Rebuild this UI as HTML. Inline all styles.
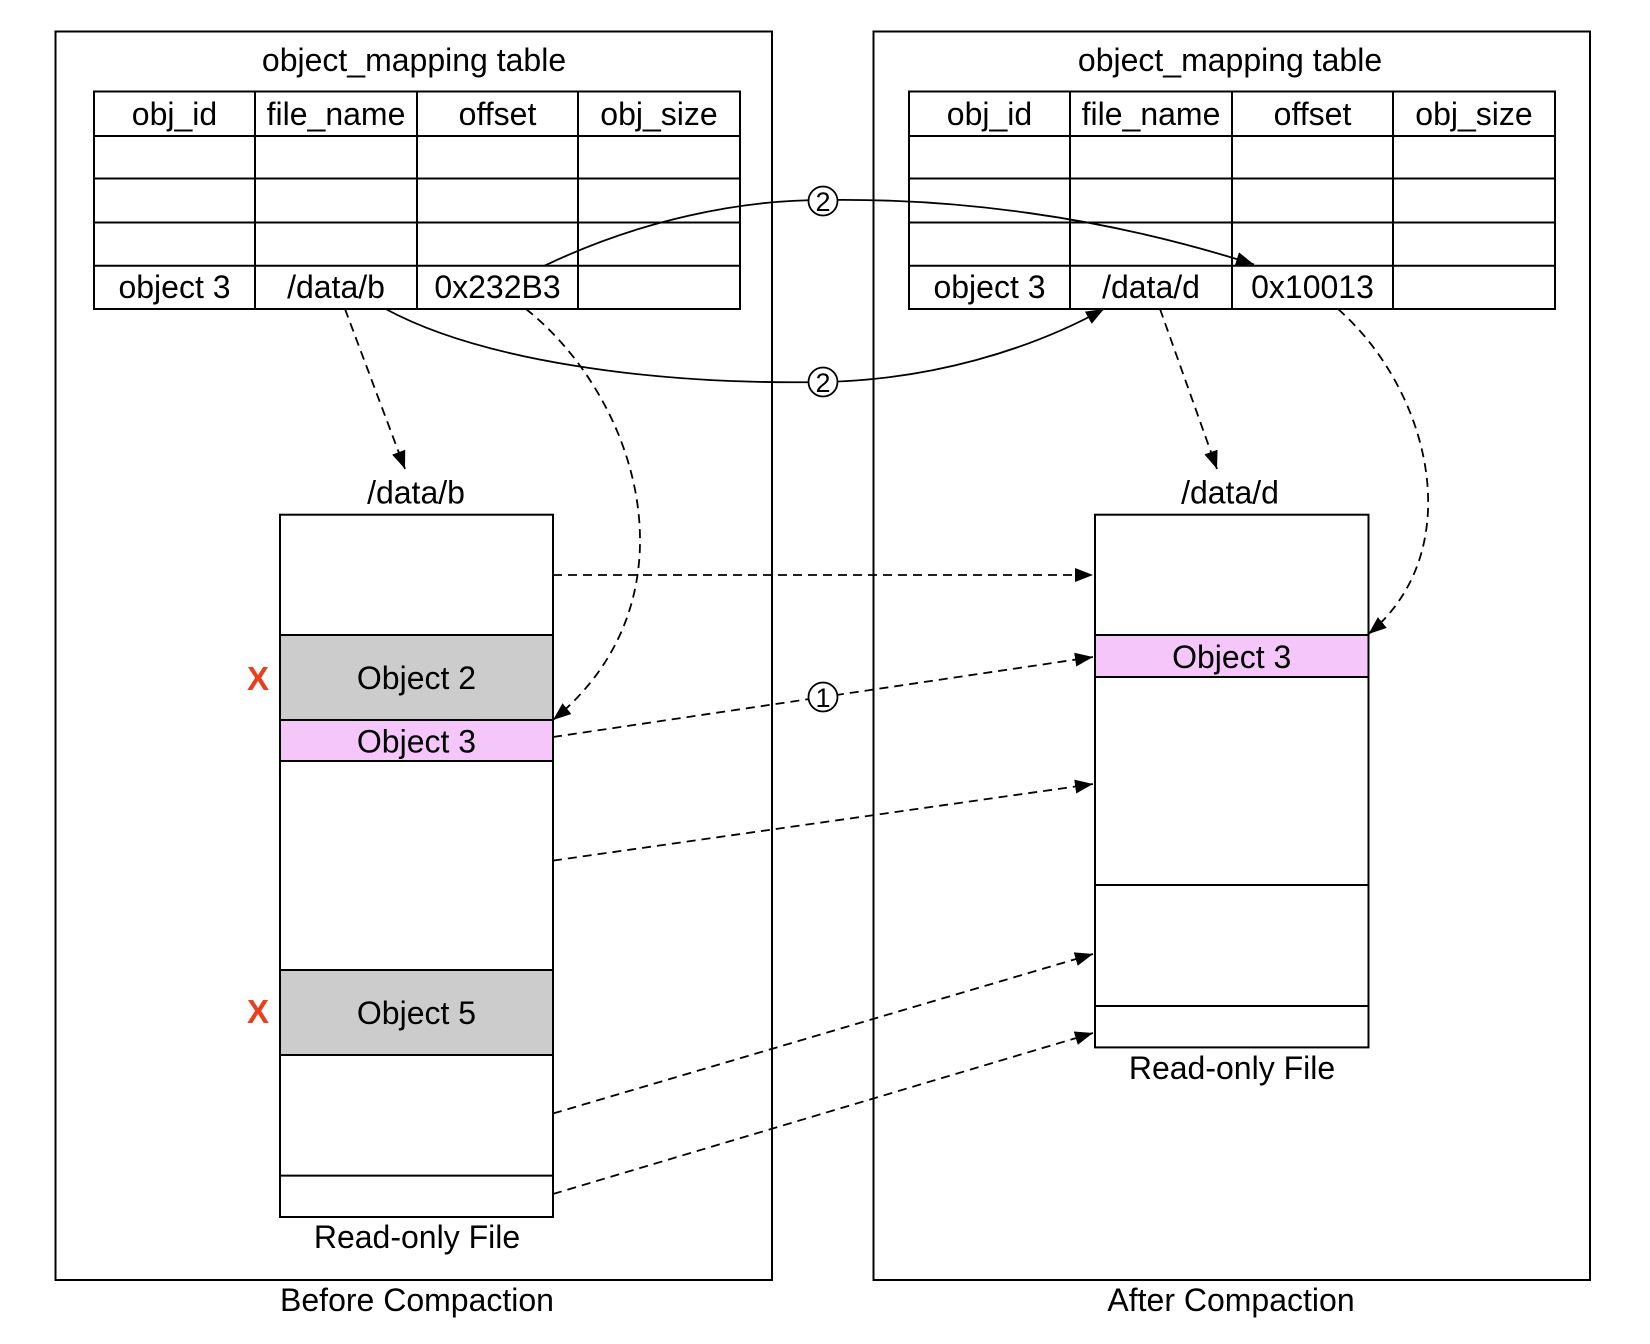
<!DOCTYPE html>
<html><head><meta charset="utf-8"><style>
html,body{margin:0;padding:0;background:#fff;}
svg{display:block;}
text{font-family:"Liberation Sans",Arial,sans-serif;font-size:32px;fill:#000;}
</style></head><body>
<svg width="1650" height="1344" viewBox="0 0 1650 1344" xmlns="http://www.w3.org/2000/svg">
<defs>
<marker id="ah" markerUnits="userSpaceOnUse" markerWidth="20" markerHeight="16" refX="18" refY="7" orient="auto">
<path d="M0,0 L18,7 L0,14 Z" fill="#000"/>
</marker>
</defs>
<g fill="none" stroke="#000" stroke-width="2">
<rect x="55.5" y="31.5" width="716.5" height="1248.5"/>
<rect x="873.5" y="31.5" width="716.5" height="1248.5"/>
</g>
<text x="414" y="71" text-anchor="middle">object_mapping table</text>
<text x="1230" y="71" text-anchor="middle">object_mapping table</text>
<g fill="none" stroke="#000" stroke-width="2">
<rect x="94" y="91.5" width="646" height="217.5"/>
<line x1="255" y1="91.5" x2="255" y2="309"/><line x1="417" y1="91.5" x2="417" y2="309"/><line x1="578" y1="91.5" x2="578" y2="309"/>
<line x1="94" y1="136" x2="740" y2="136"/><line x1="94" y1="178.5" x2="740" y2="178.5"/><line x1="94" y1="222.5" x2="740" y2="222.5"/><line x1="94" y1="265.7" x2="740" y2="265.7"/>
<rect x="909" y="91.5" width="646" height="217.5"/>
<line x1="1070" y1="91.5" x2="1070" y2="309"/><line x1="1232" y1="91.5" x2="1232" y2="309"/><line x1="1393" y1="91.5" x2="1393" y2="309"/>
<line x1="909" y1="136" x2="1555" y2="136"/><line x1="909" y1="178.5" x2="1555" y2="178.5"/><line x1="909" y1="222.5" x2="1555" y2="222.5"/><line x1="909" y1="265.7" x2="1555" y2="265.7"/>
</g>
<g text-anchor="middle">
<text x="174.5" y="125">obj_id</text><text x="336" y="125">file_name</text><text x="497.5" y="125">offset</text><text x="659" y="125">obj_size</text>
<text x="174.5" y="298">object 3</text><text x="336" y="298">/data/b</text><text x="497.5" y="298">0x232B3</text>
<text x="989.5" y="125">obj_id</text><text x="1151" y="125">file_name</text><text x="1312.5" y="125">offset</text><text x="1474" y="125">obj_size</text>
<text x="989.5" y="298">object 3</text><text x="1151" y="298">/data/d</text><text x="1312.5" y="298">0x10013</text>
</g>
<rect x="280" y="635" width="273" height="85" fill="#cccccc"/>
<rect x="280" y="720" width="273" height="41" fill="#f5c6fa"/>
<rect x="280" y="970" width="273" height="85" fill="#cccccc"/>
<g fill="none" stroke="#000" stroke-width="2">
<rect x="280" y="514.7" width="273" height="702.3"/>
<line x1="280" y1="635" x2="553" y2="635"/><line x1="280" y1="720" x2="553" y2="720"/><line x1="280" y1="761" x2="553" y2="761"/>
<line x1="280" y1="970" x2="553" y2="970"/><line x1="280" y1="1055" x2="553" y2="1055"/><line x1="280" y1="1175.6" x2="553" y2="1175.6"/>
</g>
<rect x="1095" y="635" width="273.5" height="42" fill="#f5c6fa"/>
<g fill="none" stroke="#000" stroke-width="2">
<rect x="1095" y="514.7" width="273.5" height="532.7"/>
<line x1="1095" y1="635" x2="1368.5" y2="635"/><line x1="1095" y1="677" x2="1368.5" y2="677"/>
<line x1="1095" y1="885" x2="1368.5" y2="885"/><line x1="1095" y1="1006" x2="1368.5" y2="1006"/>
</g>
<g text-anchor="middle">
<text x="416" y="503.6">/data/b</text>
<text x="1230" y="503.6">/data/d</text>
<text x="416.5" y="689">Object 2</text>
<text x="416.5" y="752.6">Object 3</text>
<text x="416.5" y="1024">Object 5</text>
<text x="1231.7" y="668">Object 3</text>
<text x="417" y="1248">Read-only File</text>
<text x="1232" y="1079">Read-only File</text>
<text x="417" y="1311">Before Compaction</text>
<text x="1231" y="1311">After Compaction</text>
<text x="258" y="690" style="fill:#e8401c;font-weight:bold;font-size:33px">X</text>
<text x="258" y="1023" style="fill:#e8401c;font-weight:bold;font-size:33px">X</text>
</g>
<g fill="none" stroke="#000" stroke-width="1.8">
<path d="M544.6,265.7 C640,220 740,200 823,200 C950,198 1100,215 1254,264.5" marker-end="url(#ah)"/>
<path d="M385.7,309 C480,360 650,385 823,382 C930,380 1030,350 1104,309" marker-end="url(#ah)"/>
</g>
<g fill="none" stroke="#000" stroke-width="1.8" stroke-dasharray="9,6">
<line x1="345" y1="309" x2="405" y2="469" marker-end="url(#ah)"/>
<line x1="1160" y1="309" x2="1217" y2="469" marker-end="url(#ah)"/>
<path d="M526,309 C640,400 700,600 553,720" marker-end="url(#ah)"/>
<path d="M1338,309 C1430,390 1470,550 1368.5,634" marker-end="url(#ah)"/>
<line x1="553" y1="575" x2="1093" y2="575" marker-end="url(#ah)"/>
<line x1="553" y1="737" x2="1093" y2="657" marker-end="url(#ah)"/>
<line x1="553" y1="860.6" x2="1093" y2="784" marker-end="url(#ah)"/>
<line x1="553" y1="1113.5" x2="1093" y2="954" marker-end="url(#ah)"/>
<line x1="553" y1="1194" x2="1093" y2="1033" marker-end="url(#ah)"/>
</g>
<g stroke="#000" stroke-width="1.8" fill="#fff">
<circle cx="823" cy="201" r="14.5"/>
<circle cx="823" cy="382" r="14.5"/>
<circle cx="823" cy="697" r="14.5"/>
</g>
<g text-anchor="middle">
<text x="823" y="211" style="font-size:27px">2</text>
<text x="823" y="392" style="font-size:27px">2</text>
<text x="823" y="707" style="font-size:27px">1</text>
</g>
</svg>
</body></html>
